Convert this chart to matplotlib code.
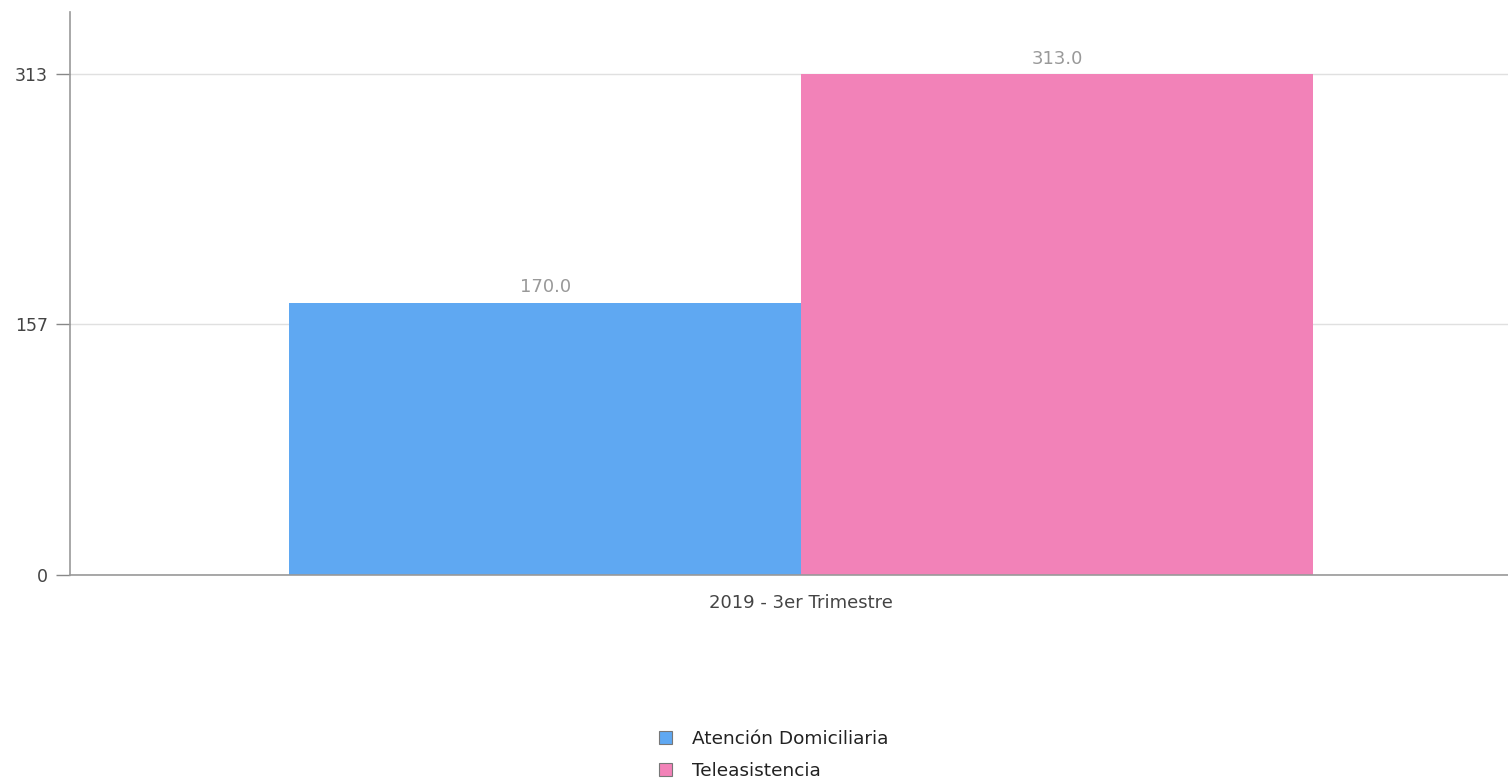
import matplotlib
matplotlib.use("Agg")
import matplotlib.pyplot as plt
from matplotlib.patches import Patch

categories = ["2019 - 3er Trimestre"]
series_names = ["Atención Domiciliaria", "Teleasistencia"]
series_values = [170.0, 313.0]
series_colors = ["#5fa8f2", "#f282b8"]
ytick_values = [0, 157, 313]

plt.rcParams['font.family'] = 'sans-serif'
plt.rcParams['font.sans-serif'] = ['DejaVu Sans']
FONT = 'DejaVu Sans'
fig = plt.figure(figsize=(15.08, 7.8), dpi=100)
ax = fig.add_axes([70/1508, 205/780, 1438/1508, 563/780])

positions = [0, 1]
for pos, val, col in zip(positions, series_values, series_colors):
    ax.bar(pos, val, width=1.0, color=col, align='center')
    ax.text(pos, val + 4.0, f"{val:.1f}", ha='center', va='bottom',
            fontsize=13, color='#999999', family=FONT)

ax.set_xlim(-0.928, 1.881)
ax.set_ylim(0, 351.7)
ax.set_yticks(ytick_values)
ax.set_yticklabels([str(v) for v in ytick_values], fontsize=12.5, color='#444444', family=FONT)
ax.set_xticks([0.5])
ax.set_xticklabels(categories, fontsize=13, color='#444444', family=FONT)
ax.tick_params(axis='x', length=0, pad=14)
ax.tick_params(axis='y', length=10, color='#888888', width=1, pad=6)
ax.yaxis.grid(True, color='#e0e0e0', linewidth=1)
ax.set_axisbelow(True)
for s in ['top', 'right']:
    ax.spines[s].set_visible(False)
for s in ['left', 'bottom']:
    ax.spines[s].set_color('#999999')
    ax.spines[s].set_linewidth(1.2)

handles = [Patch(facecolor=c, edgecolor='#777777', linewidth=0.8, label=n)
           for c, n in zip(series_colors, series_names)]
fig.legend(handles=handles, loc='center left', bbox_to_anchor=(642/1508, 1 - 755/780),
           frameon=False, prop={'family': FONT, 'size': 13.3}, handlelength=0.72,
           handleheight=0.72, handletextpad=1.1, labelspacing=0.72, ncol=1,
           labelcolor='#222222')

fig.savefig("out.png", dpi=100)
